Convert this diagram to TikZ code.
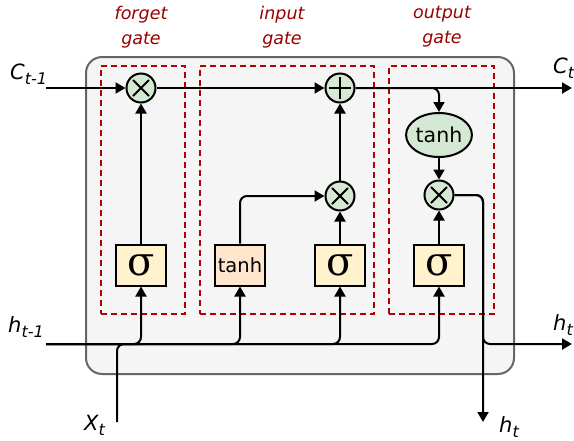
\documentclass[tikz,border=0pt]{standalone}
\usepackage{fontspec}
\setmainfont{DejaVu Sans}
\newfontfamily\sigfont{DejaVu Serif}
\usetikzlibrary{arrows.meta,positioning,shapes.geometric}
\definecolor{CellGrey}{HTML}{F5F5F5}
\definecolor{CellEdge}{HTML}{666666}
\definecolor{GateRed}{HTML}{B20000}
\definecolor{LabelRed}{HTML}{990000}
\definecolor{OpGreen}{HTML}{D5E8D4}
\definecolor{SigYellow}{HTML}{FFF2CC}
\definecolor{TanhPeach}{HTML}{FFE6CC}
\newcommand\lstmsub[1]{\raisebox{-5pt}{\fontsize{16}{16}\selectfont #1}}

\begin{document}
\begin{tikzpicture}[x=1pt, y=-1pt,
  cell/.style={draw=CellEdge, fill=CellGrey, line width=2pt, rounded corners=16pt, minimum width=428pt, minimum height=317pt},
  gate/.style={draw=GateRed, dash pattern=on 6pt off 4pt, line width=2pt, minimum height=248pt},
  op/.style={circle, draw, fill=OpGreen, line width=2pt, minimum size=29pt, inner sep=0pt},
  mult/.style={op, path picture={\draw[line width=1.8pt] ([shift={(-8pt,-8pt)}]path picture bounding box.center) -- ([shift={(8pt,8pt)}]path picture bounding box.center) ([shift={(-8pt,8pt)}]path picture bounding box.center) -- ([shift={(8pt,-8pt)}]path picture bounding box.center);}},
  plus/.style={op, path picture={\draw[line width=1.8pt] ([shift={(-11pt,0pt)}]path picture bounding box.center) -- ([shift={(11pt,0pt)}]path picture bounding box.center) ([shift={(0pt,-11pt)}]path picture bounding box.center) -- ([shift={(0pt,11pt)}]path picture bounding box.center);}},
  act/.style={draw, line width=2pt, minimum width=50pt, minimum height=41pt, inner sep=0pt},
  sig/.style={act, fill=SigYellow, font=\sigfont\fontsize{40}{40}\selectfont},
  arrow/.style={-{Triangle[length=10pt,width=11pt]}, line width=2pt},
  wire/.style={line width=2pt, rounded corners=7pt},
  tag/.style={font=\fontsize{17.5}{25}\selectfont\itshape, text=LabelRed, align=center},
  io/.style={font=\fontsize{21}{21}\selectfont\itshape}
]
  \useasboundingbox (0,0) rectangle (574,440);

  % cell and gate regions
  \node[cell] (cell) at (300,215.5) {};
  \node[gate, minimum width=84pt] (fgate) at (143,190) {};
  \node[gate, minimum width=174pt] (igate) at (287,190) {};
  \node[gate, minimum width=105pt] (ogate) at (441.5,190) {};
  \node[tag] (ftag) at (141,27) {forget\\gate};
  \node[tag] (itag) at (282,27) {input\\gate};
  \node[tag] (otag) at (442,27) {output\\gate};

  % operations
  \node[mult] (mulf) at (141,88) {};
  \node[plus] (add) at (340,88) {};
  \node[mult] (muli) at (340,196) {};
  \node[mult] (mulo) at (439,195) {};
  \node[ellipse, draw, fill=OpGreen, line width=2pt, minimum width=50pt, minimum height=44pt, inner sep=0pt, font=\fontsize{20.5}{20}\selectfont] (tanho) at (439,135) {tanh};

  % activations
  \node[sig] (sigf) at (141,265) {σ};
  \node[act, fill=TanhPeach, font=\fontsize{19.5}{19}\selectfont] (tanhi) at (240,265) {tanh};
  \node[sig] (sigi) at (340,265) {σ};
  \node[sig] (sigo) at (439,265) {σ};

  % end points
  \coordinate (cin) at (46,88);
  \coordinate (cout) at (572,88);
  \coordinate (hin) at (46,344);
  \coordinate (hout) at (572,344);
  \coordinate (xin) at (117,422);
  \coordinate (hdown) at (483,422);

  % cell state
  \draw[arrow] (cin) -- (mulf);
  \draw[arrow] (mulf) -- (add);
  \draw[arrow] (add) -- (cout);
  \draw[arrow, wire] (add) -| (tanho);
  \draw[arrow] (tanho) -- (mulo);

  % gates
  \draw[arrow] (sigf) -- (mulf);
  \draw[arrow] (sigi) -- (muli);
  \draw[arrow] (muli) -- (add);
  \draw[arrow, wire] (tanhi) |- (muli);
  \draw[arrow] (sigo) -- (mulo);

  % inputs
  \draw[wire] (xin) |- (sigf |- hin);
  \draw[arrow, wire] (hin) -| (sigf);
  \draw[arrow, wire] (hin) -| (tanhi);
  \draw[arrow, wire] (hin) -| (sigi);
  \draw[arrow, wire] (hin) -| (sigo);

  % hidden state out
  \draw[arrow, wire] (mulo) -| (hdown);
  \draw[arrow, wire] (mulo) -| (hdown |- hin) -- (hout);

  % labels
  \node[io, anchor=base west, inner sep=0pt] (cinlab) at (10,79) {C\lstmsub{t-1}};
  \node[io, anchor=base west, inner sep=0pt] (coutlab) at (553,73) {C\lstmsub{t}};
  \node[io, anchor=base west, inner sep=0pt] (hinlab) at (8,332) {h\lstmsub{t-1}};
  \node[io, anchor=base west, inner sep=0pt] (houtlab) at (553,330) {h\lstmsub{t}};
  \node[io, anchor=base west, inner sep=0pt] (xinlab) at (84,430) {X\lstmsub{t}};
  \node[io, anchor=base west, inner sep=0pt] (hdownlab) at (499,432) {h\lstmsub{t}};
\end{tikzpicture}
\end{document}
